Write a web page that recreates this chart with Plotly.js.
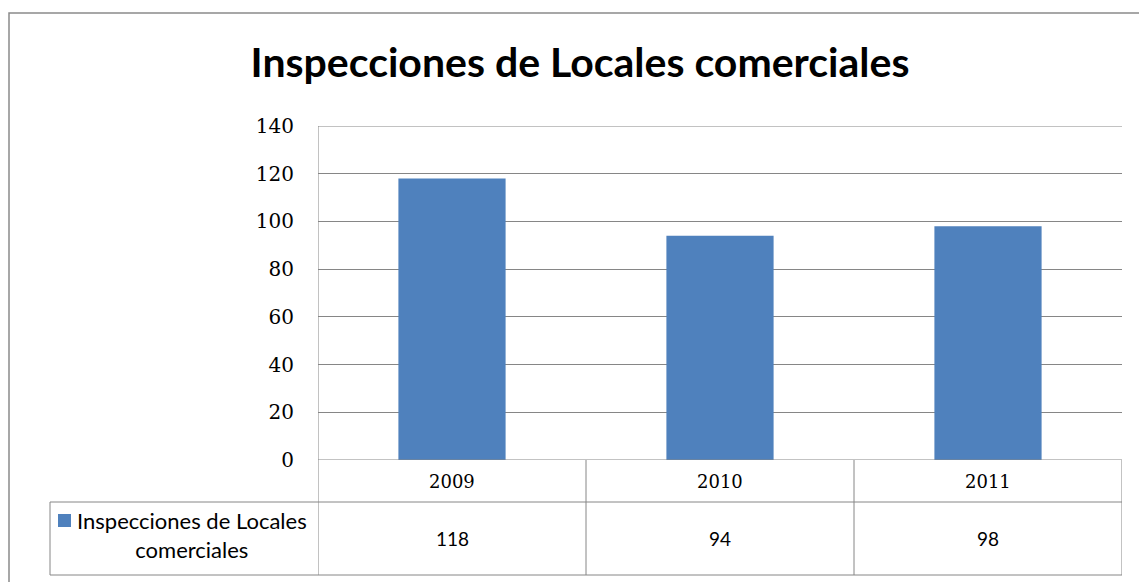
<!DOCTYPE html>
<html>
<head>
<meta charset="utf-8">
<script src="https://cdn.plot.ly/plotly-3.0.1.min.js"></script>
<style>html,body{margin:0;padding:0;background:#fff}#chart{width:1139px;height:582px}</style>
</head>
<body>
<div id="chart"></div>
<script>
const categories = ["2009", "2010", "2011"];
const values = [118, 94, 98];
const seriesName = "Inspecciones de Locales comerciales";
const yTicks = [0, 20, 40, 60, 80, 100, 120, 140];

const barColor = "#4F81BD";
const lineColor = "#868686";
const W = 1139, H = 582;
const L = 318, R = 17, T = 126, B = 122;
const pw = W - L - R, ph = H - T - B;
const px = x => (x - L) / pw;          // pixel -> paper x
const py = y => (H - B - y) / ph;      // pixel -> paper y

const headerBottom = py(502), tableBottom = py(575);
const tableLeft = px(50), tableRight = 1;

const shapes = [];
// outer chart border
shapes.push({type:"rect", xref:"paper", yref:"paper", x0:px(9), x1:px(1150), y0:py(13), y1:py(600),
  line:{color:"#8a8a8a", width:1.5}});
// top and bottom value lines of plot area
shapes.push({type:"line", xref:"paper", yref:"y", x0:0, x1:1, y0:yTicks[yTicks.length-1], y1:yTicks[yTicks.length-1], line:{color:lineColor,width:1}});
shapes.push({type:"line", xref:"paper", yref:"y", x0:0, x1:1, y0:yTicks[0], y1:yTicks[0], line:{color:lineColor,width:1}});
// table horizontal lines
shapes.push({type:"line", xref:"paper", yref:"paper", x0:tableLeft, x1:tableRight, y0:headerBottom, y1:headerBottom, line:{color:lineColor,width:1}});
shapes.push({type:"line", xref:"paper", yref:"paper", x0:tableLeft, x1:tableRight, y0:tableBottom, y1:tableBottom, line:{color:lineColor,width:1}});
shapes.push({type:"line", xref:"paper", yref:"paper", x0:tableLeft, x1:tableLeft, y0:headerBottom, y1:tableBottom, line:{color:lineColor,width:1}});
// category separators
for (let i = 0; i <= categories.length; i++) {
  const top = (i === 0) ? 1 : 0;
  shapes.push({type:"line", xref:"x", yref:"paper", x0:i-0.5, x1:i-0.5, y0:top, y1:tableBottom, line:{color:lineColor,width:1}});
}
// legend key square
shapes.push({type:"rect", xref:"paper", yref:"paper", x0:px(58), x1:px(71), y0:py(527), y1:py(514),
  fillcolor:barColor, line:{width:0}});

const annotations = [];
categories.forEach((c, i) => {
  annotations.push({x:i, xref:"x", y:py(481), yref:"paper", xanchor:"center", yanchor:"middle", text:c, showarrow:false,
    font:{family:"DejaVu Serif", size:18, color:"#000"}});
  annotations.push({x:i, xref:"x", y:py(538), yref:"paper", xanchor:"center", yanchor:"middle", text:String(values[i]), showarrow:false,
    font:{family:"Lato", size:19, color:"#000"}});
});
annotations.push({x:px(192), xref:"paper", y:py(535), yref:"paper", xanchor:"center", yanchor:"middle",
  text:"Inspecciones de Locales<br>comerciales", showarrow:false, align:"center",
  font:{family:"Lato", size:22, color:"#000"}});

const data = [{
  type:"bar", x:categories.map((c,i)=>i), y:values, name:seriesName,
  marker:{color:barColor}, width:0.4, hoverinfo:"none"
}];

const layout = {
  width:W, height:H,
  margin:{l:L, r:R, t:T, b:B, pad:0},
  paper_bgcolor:"#fff", plot_bgcolor:"#fff",
  showlegend:false,
  title:{text:"<b>Inspecciones de Locales comerciales</b>", x:px(580), xanchor:"center", xref:"paper", y:py(71), yref:"paper", yanchor:"middle",
    font:{family:"Lato", size:41, color:"#000"}},
  xaxis:{range:[-0.5, 2.5], showticklabels:false, showgrid:false, zeroline:false, ticks:"", fixedrange:true},
  yaxis:{range:[0,140], tickvals:yTicks, showgrid:true, gridcolor:lineColor, gridwidth:1, zeroline:false,
    ticks:"", showline:false,
    tickfont:{family:"DejaVu Serif", size:20, color:"#000"}, ticklabelstandoff:23},
  shapes:shapes, annotations:annotations
};

Plotly.newPlot("chart", data, layout, {staticPlot:true});
</script>
</body>
</html>
